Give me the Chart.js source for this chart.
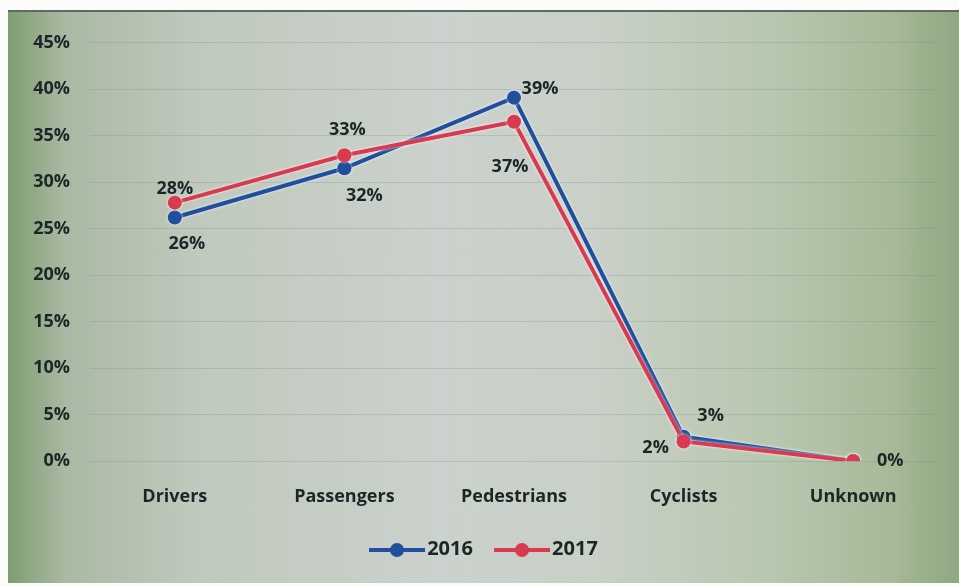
<!DOCTYPE html>
<html>
<head>
<meta charset="utf-8">
<script src="https://cdn.jsdelivr.net/npm/chart.js@4.4.1/dist/chart.umd.min.js"></script>
<style>
  body { margin: 0; background: #fbfbf9; width: 959px; height: 586px; overflow: hidden; position: relative; }
  #wrap {
    position: absolute; left: 8px; top: 10px; width: 951px; height: 573px;
    border-top: 2px solid #5f6a66;
    box-sizing: border-box;
    background: linear-gradient(90deg, #7f9d72 0%, #a9b9a3 6%, #c0c9bd 20%, #cbd1cc 45%, #c9d0c7 62%, #b8c7b0 80%, #a6b998 93%, #8ea882 100%);
  }
  #legend {
    position: absolute; left: 0; right: 0; top: 520px; text-align: center;
    font: bold 20px "Open Sans", Lato, sans-serif; color: #1c2626;
  }
  .item { display: inline-block; margin: 0 8px; vertical-align: middle; }
  .mark { display: inline-block; position: relative; width: 56px; height: 14px; vertical-align: middle; margin-right: 2px; }
  .mark:before { content: ''; position: absolute; left: 0; right: 0; top: 5px; height: 4px; }
  .mark:after { content: ''; position: absolute; left: 21px; top: 0; width: 14px; height: 14px; border-radius: 50%; }
  .b:before, .b:after { background: #1f4f9d; }
  .r:before, .r:after { background: #d83a50; }
</style>
</head>
<body>
<div id="wrap">
  <canvas id="chart" width="951" height="571"></canvas>
  <div id="legend">
    <span class="item"><span class="mark b"></span>2016</span>
    <span class="item"><span class="mark r"></span>2017</span>
  </div>
</div>
<script>
// Données
const categories = ['Drivers', 'Passengers', 'Pedestrians', 'Cyclists', 'Unknown'];
const valeurs2016 = [26.2, 31.5, 39.1, 2.6, 0];
const valeurs2017 = [27.8, 32.9, 36.5, 2.1, 0];
const etiquettes2016 = ['26%', '32%', '39%', '3%', ''];
const etiquettes2017 = ['28%', '33%', '37%', '2%', '0%'];

const POLICE = '"Open Sans", Lato, sans-serif';

// Étiquettes de données (décalages par rapport aux points)
const decalages = [
    [[12, 26], [20, 28], [26, -9], [27, -21], [0, 0]],
    [[0, -14], [3, -25], [-4, 45], [-28, 6], [37, 0]]
];
const etiquettes = [etiquettes2016, etiquettes2017];

const pluginEtiquettes = {
    id: 'etiquettes',
    beforeDatasetDraw(chart) {
        // léger halo blanc autour des lignes
        chart.ctx.save();
        chart.ctx.shadowColor = 'rgba(255,255,255,0.9)';
        chart.ctx.shadowBlur = 3;
    },
    afterDatasetDraw(chart) {
        chart.ctx.restore();
    },
    afterDatasetsDraw(chart) {
        const ctx = chart.ctx;
        ctx.save();
        ctx.font = 'bold 18px ' + POLICE;
        ctx.fillStyle = '#1c2626';
        ctx.textAlign = 'center';
        ctx.textBaseline = 'middle';
        chart.data.datasets.forEach((ds, i) => {
            const meta = chart.getDatasetMeta(i);
            meta.data.forEach((pt, j) => {
                const txt = etiquettes[i][j];
                if (!txt) return;
                ctx.fillText(txt, pt.x + decalages[i][j][0], pt.y + decalages[i][j][1]);
            });
        });
        ctx.restore();
    }
};

const ctx = document.getElementById('chart');
new Chart(ctx, {
    type: 'line',
    data: {
        labels: categories,
        datasets: [{
            label: '2016',
            data: valeurs2016,
            borderColor: '#1f4f9d',
            backgroundColor: '#1f4f9d',
            borderWidth: 4,
            pointRadius: 7,
            pointBorderWidth: 0,
            tension: 0,
            order: 1
        }, {
            label: '2017',
            data: valeurs2017,
            borderColor: '#d83a50',
            backgroundColor: '#d83a50',
            borderWidth: 4,
            pointRadius: 7,
            pointBorderWidth: 0,
            tension: 0,
            order: 0
        }]
    },
    options: {
        responsive: false,
        animation: false,
        layout: { padding: { top: 24, right: 21, left: 0, bottom: 0 } },
        plugins: {
            legend: { display: false },
            tooltip: { enabled: false }
        },
        scales: {
            x: {
                offset: true,
                grid: { display: false, drawTicks: false },
                border: { display: false },
                ticks: {
                    padding: 25,
                    color: '#1c2626',
                    font: { family: POLICE, size: 18, weight: 'bold' }
                },
                afterFit(scale) { scale.height = 122; }
            },
            y: {
                min: 0,
                max: 45,
                grid: { color: 'rgba(120,130,130,0.25)', drawTicks: false },
                border: { display: false },
                ticks: {
                    stepSize: 5,
                    padding: 20,
                    color: '#1c2626',
                    font: { family: POLICE, size: 18, weight: 'bold' },
                    callback: v => v + '%'
                },
                afterFit(scale) { scale.width = 82; }
            }
        }
    },
    plugins: [pluginEtiquettes]
});
</script>
</body>
</html>
